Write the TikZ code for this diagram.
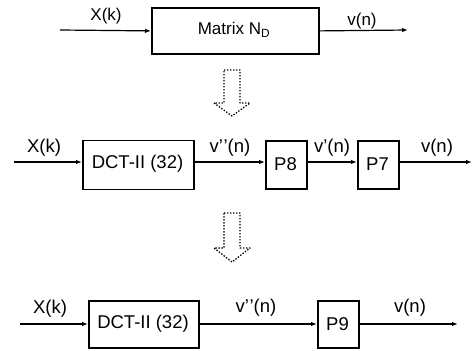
\documentclass[tikz,border=0pt]{standalone}
\usepackage{fontspec}
\setmainfont{Liberation Sans}
\usetikzlibrary{arrows.meta}
\begin{document}
\begin{tikzpicture}[x=1pt,y=-1pt,
  font=\fontsize{18.5}{22}\selectfont,
  small/.style={font=\fontsize{17}{20}\selectfont},
  blk/.style={draw,line width=1.8pt,inner sep=0pt,anchor=north west},
  sig/.style={line width=1.2pt,-{Latex[length=6pt,width=4.5pt]}},
  lbl/.style={anchor=base,inner sep=0pt},
  dotarrow/.style={line width=1.3pt,dash pattern=on 1.4pt off 1.6pt,line join=round}]
\useasboundingbox (0,0) rectangle (472,351);
% Row 1
\node[blk,minimum width=167pt,minimum height=46pt] (m) at (151,7) {};
\node[small] at (234,30) {Matrix N\textsubscript{D}};
\coordinate (in1) at (60,30);
\coordinate (out1) at (408,30);
\draw[sig] (in1) -- (m.west);
\draw[sig] (m.east) -- (out1);
\node[lbl,small] (l1a) at (106,20) {X(k)};
\node[lbl,small] (l1b) at (362,25) {v(n)};
% dotted arrow 1
\draw[dotarrow] (224,70) -- (240,70) -- (240,103) -- (250,103) -- (232,116) -- (214,103) -- (224,103) -- cycle;
% Row 2
\node[blk,minimum width=111pt,minimum height=49pt] (d2) at (82,139.5) {};
\node at (137.5,164) {DCT-II (32)};
\node[blk,minimum width=41pt,minimum height=48pt] (p8) at (265,140) {};
\node at (285.5,164) {P8};
\node[blk,minimum width=41pt,minimum height=48pt] (p7) at (357,140) {};
\node at (377.5,164) {P7};
\coordinate (in2) at (14,162);
\coordinate (out2) at (472,162);
\draw[sig] (in2) -- (in2 -| d2.west);
\draw[sig] (d2.east |- in2) -- (p8.west |- in2);
\draw[sig] (p8.east |- in2) -- (p7.west |- in2);
\draw[sig] (p7.east |- in2) -- (out2);
\node[lbl] at (44,152) {X(k)};
\node[lbl] at (230,152) {v'\kern0.5pt'(n)};
\node[lbl] at (332,152) {v'(n)};
\node[lbl] at (437,152) {v(n)};
% dotted arrow 2
\draw[dotarrow] (224,213) -- (240,213) -- (240,248) -- (250,248) -- (232,262) -- (214,248) -- (224,248) -- cycle;
% Row 3
\node[blk,minimum width=110pt,minimum height=47pt] (d3) at (88,300) {};
\node at (143,324) {DCT-II (32)};
\node[blk,minimum width=41pt,minimum height=47pt] (p9) at (317,300) {};
\node at (337.5,324) {P9};
\coordinate (in3) at (20,324);
\coordinate (out3) at (458,324);
\draw[sig] (in3) -- (in3 -| d3.west);
\draw[sig] (d3.east |- in3) -- (p9.west |- in3);
\draw[sig] (p9.east |- in3) -- (out3);
\node[lbl] at (50,313) {X(k)};
\node[lbl] at (256,312) {v'\kern0.5pt'(n)};
\node[lbl] at (410,312) {v(n)};
\end{tikzpicture}
\end{document}
